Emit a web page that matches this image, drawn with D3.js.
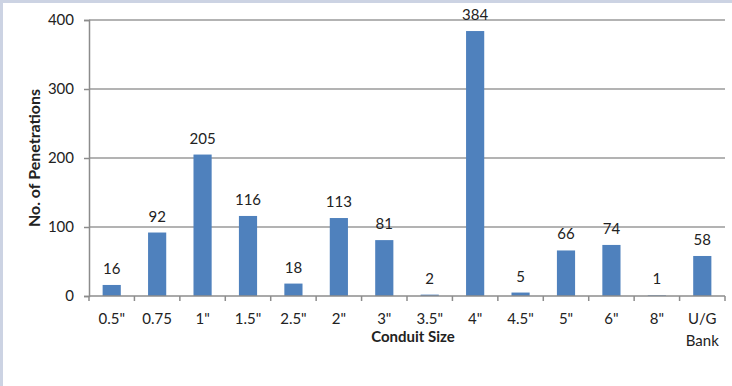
<!DOCTYPE html>
<html>
<head>
<meta charset="utf-8">
<script src="https://cdn.jsdelivr.net/npm/d3@7/dist/d3.min.js"></script>
<style>
  html, body { margin: 0; padding: 0; background: #fff; }
  svg { display: block; }
  text { font-family: Lato, "Open Sans", sans-serif; fill: #222; }
</style>
</head>
<body>
<svg id="chart" width="732" height="386"></svg>
<script>
// Conduit sizes and counts of penetrations
const categories = ['0.5"', '0.75', '1"', '1.5"', '2.5"', '2"', '3"', '3.5"', '4"', '4.5"', '5"', '6"', '8"', 'U/G\nBank'];
const counts = [16, 92, 205, 116, 18, 113, 81, 2, 384, 5, 66, 74, 1, 58];
const yTicks = [0, 100, 200, 300, 400];

const W = 732, H = 386;
const plot = { left: 89, right: 725, top: 20, bottom: 296 };

const svg = d3.select("#chart");

// frame strips along top and left edges
svg.append("rect").attr("x", 0).attr("y", 0).attr("width", W).attr("height", H).attr("fill", "#fff");
svg.append("rect").attr("x", 0).attr("y", 0).attr("width", W).attr("height", 3).attr("fill", "#ccd3e3");
svg.append("rect").attr("x", 0).attr("y", 0).attr("width", 3).attr("height", H).attr("fill", "#ccd3e3");

const x = d3.scaleBand()
  .domain(categories)
  .range([plot.left, plot.right])
  .paddingInner(0.6)
  .paddingOuter(0.3);

const y = d3.scaleLinear().domain([0, 400]).range([plot.bottom, plot.top]);

// horizontal gridlines
svg.append("g")
  .selectAll("line")
  .data(yTicks.filter(d => d > 0))
  .join("line")
  .attr("x1", plot.left).attr("x2", plot.right)
  .attr("y1", d => y(d)).attr("y2", d => y(d))
  .attr("stroke", "#9a9a9a").attr("stroke-width", 1.5);

// y axis
const yAxis = svg.append("g")
  .attr("transform", `translate(${plot.left},0)`)
  .call(d3.axisLeft(y).tickValues(yTicks).tickSize(5).tickPadding(10));
yAxis.select(".domain").attr("stroke", "#8c8c8c").attr("stroke-width", 1.5);
yAxis.selectAll(".tick line").attr("stroke", "#8c8c8c").attr("stroke-width", 1.5);
yAxis.selectAll(".tick text").attr("font-size", 15).attr("font-family", "Lato, sans-serif").attr("fill", "#222");

// bars
svg.append("g")
  .selectAll("rect")
  .data(counts)
  .join("rect")
  .attr("x", (d, i) => x(categories[i]))
  .attr("width", x.bandwidth())
  .attr("y", d => y(d))
  .attr("height", d => y(0) - y(d))
  .attr("fill", "#4f81bd");

// value labels
svg.append("g")
  .selectAll("text")
  .data(counts)
  .join("text")
  .attr("x", (d, i) => x(categories[i]) + x.bandwidth() / 2)
  .attr("y", d => y(d) - 11)
  .attr("text-anchor", "middle")
  .attr("font-size", 15)
  .text(d => d);

// x axis with ticks between categories
const xAxisG = svg.append("g").attr("transform", `translate(0,${plot.bottom})`);
xAxisG.append("line")
  .attr("x1", plot.left).attr("x2", plot.right)
  .attr("y1", 0).attr("y2", 0)
  .attr("stroke", "#8c8c8c").attr("stroke-width", 1.5);
const tickXs = d3.range(categories.length + 1).map(i => plot.left + i * (plot.right - plot.left) / categories.length);
xAxisG.selectAll("line.tk")
  .data(tickXs)
  .join("line")
  .attr("class", "tk")
  .attr("x1", d => d).attr("x2", d => d)
  .attr("y1", 0).attr("y2", 5)
  .attr("stroke", "#8c8c8c").attr("stroke-width", 1.5);

const catLabels = xAxisG.selectAll("text.cat")
  .data(categories)
  .join("text")
  .attr("class", "cat")
  .attr("text-anchor", "middle")
  .attr("font-size", 15)
  .attr("transform", d => `translate(${x(d) + x.bandwidth() / 2},28)`);
catLabels.each(function(d) {
  const parts = d.split("\n");
  d3.select(this).selectAll("tspan")
    .data(parts)
    .join("tspan")
    .attr("x", 0)
    .attr("dy", (p, j) => j === 0 ? 0 : 22)
    .text(p => p);
});

// axis titles
svg.append("text")
  .attr("x", 413).attr("y", 342)
  .attr("text-anchor", "middle")
  .attr("font-size", 15)
  .attr("font-weight", "bold")
  .text("Conduit Size");

svg.append("text")
  .attr("transform", `translate(40,158) rotate(-90)`)
  .attr("text-anchor", "middle")
  .attr("font-size", 16)
  .attr("font-weight", "bold")
  .text("No. of Penetrations");
</script>
</body>
</html>
